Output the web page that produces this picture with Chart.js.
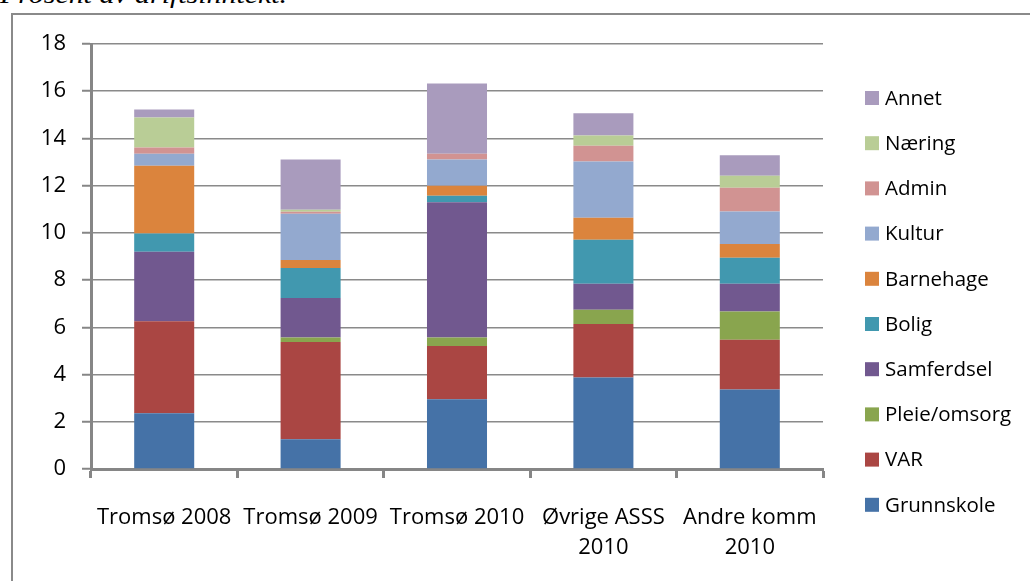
<!DOCTYPE html>
<html>
<head>
<meta charset="utf-8">
<script src="https://cdn.jsdelivr.net/npm/chart.js@4/dist/chart.umd.min.js"></script>
<style>
  html, body { margin: 0; padding: 0; background: #fff; width: 1030px; height: 581px; overflow: hidden; }
  #frame { position: absolute; left: 11px; top: 13px; width: 1100px; height: 700px; border: 2px solid #8a8a8a; box-sizing: border-box; }
  #caption { position: absolute; left: 0px; top: -20px; font-family: "Liberation Serif", serif; font-style: italic; font-size: 26px; line-height: 30px; color: #000; white-space: nowrap; transform: scaleX(1.15); transform-origin: 0 0; }
  #c { position: absolute; left: 0; top: 0; }
</style>
</head>
<body>
<div id="caption">Prosent av driftsinntekt.</div>
<div id="frame"></div>
<canvas id="c" width="1030" height="581"></canvas>
<script>
const categories = ["Tromsø 2008", "Tromsø 2009", "Tromsø 2010", ["Øvrige ASSS", "2010"], ["Andre komm", "2010"]];
const yTicks = [0, 2, 4, 6, 8, 10, 12, 14, 16, 18];

const grunnskole = [2.36, 1.26, 2.95, 3.88, 3.37];
const varData    = [3.90, 4.12, 2.26, 2.26, 2.10];
const pleie      = [0.00, 0.19, 0.36, 0.61, 1.20];
const samferdsel = [2.94, 1.67, 5.73, 1.10, 1.18];
const bolig      = [0.77, 1.27, 0.27, 1.86, 1.10];
const barnehage  = [2.87, 0.34, 0.43, 0.93, 0.58];
const kultur     = [0.51, 1.96, 1.11, 2.38, 1.38];
const admin      = [0.27, 0.09, 0.24, 0.67, 1.00];
const naering    = [1.27, 0.08, 0.00, 0.43, 0.51];
const annet      = [0.34, 2.13, 2.98, 0.95, 0.87];

const seriesNames = ["Grunnskole", "VAR", "Pleie/omsorg", "Samferdsel", "Bolig", "Barnehage", "Kultur", "Admin", "Næring", "Annet"];
const seriesValues = [grunnskole, varData, pleie, samferdsel, bolig, barnehage, kultur, admin, naering, annet];
const seriesColors = ["#4572A7", "#AA4643", "#89A54E", "#71588F", "#4198AF", "#DB843D", "#93A9CF", "#D19392", "#B9CD96", "#A99BBD"];

const FONT = "'Open Sans', sans-serif";

const legendPlugin = {
  id: 'customLegend',
  afterDraw(chart) {
    const ctx = chart.ctx;
    const ds = chart.data.datasets;
    const x0 = 865, yTop = 98, step = 45.2, box = 14;
    ctx.save();
    ctx.font = "20.5px " + FONT;
    ctx.textBaseline = 'middle';
    ctx.textAlign = 'left';
    for (let i = ds.length - 1, k = 0; i >= 0; i--, k++) {
      const y = yTop + k * step;
      ctx.fillStyle = ds[i].backgroundColor;
      ctx.fillRect(x0, y - box / 2, box, box);
      ctx.fillStyle = '#000';
      ctx.fillText(ds[i].label, x0 + 20, y + 1);
    }
    ctx.restore();
  }
};

new Chart(document.getElementById('c'), {
  type: 'bar',
  data: {
    labels: categories,
    datasets: seriesNames.map((n, i) => ({
      label: n,
      data: seriesValues[i],
      backgroundColor: seriesColors[i],
      borderWidth: 0,
      barPercentage: 0.41,
      categoryPercentage: 1.0
    }))
  },
  options: {
    responsive: false,
    animation: false,
    devicePixelRatio: 1,
    layout: { padding: { left: 0, right: 207, top: 44, bottom: 0 } },
    plugins: { legend: { display: false }, tooltip: { enabled: false } },
    scales: {
      x: {
        stacked: true,
        afterFit(s) { s.height = 112; },
        border: { display: true, color: '#868686', width: 3 },
        grid: { display: true, drawOnChartArea: false, drawTicks: true, tickLength: 9, tickColor: '#868686', tickWidth: 3, offset: true },
        ticks: { color: '#000', font: { family: FONT, size: 22, lineHeight: 1.4 }, padding: 24, maxRotation: 0, autoSkip: false }
      },
      y: {
        stacked: true,
        min: 0, max: 18,
        afterFit(s) { s.width = 91; },
        afterBuildTicks(s) { s.ticks = yTicks.map(v => ({ value: v })); },
        border: { display: true, color: '#868686', width: 3 },
        grid: { color: '#8a8a8a', lineWidth: 1.5, tickLength: 9, tickColor: '#868686', tickWidth: 2 },
        ticks: { color: '#000', font: { family: FONT, size: 22 }, padding: 16 }
      }
    }
  },
  plugins: [legendPlugin]
});
</script>
</body>
</html>
